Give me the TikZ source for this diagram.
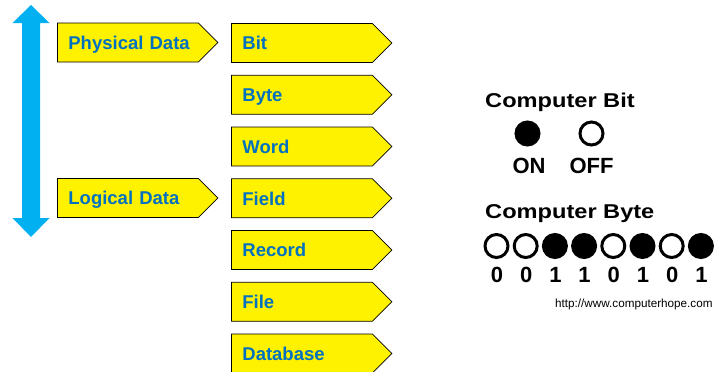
\documentclass[tikz,border=0pt]{standalone}
\usepackage{fontspec}
\setmainfont{Liberation Sans}
\usetikzlibrary{shapes.symbols}
\usetikzlibrary{positioning}
\definecolor{itemblue}{RGB}{0,112,192}
\definecolor{arrowblue}{RGB}{0,176,240}
\tikzset{x=1pt, y=-1pt,
datapart/.style={ % yellow pointed boxes
signal, signal to=east, signal pointer angle=90,
draw=black, fill=yellow, line width=0.8pt,
minimum height=39pt, inner xsep=0pt, inner ysep=0pt,
text width=141pt, text height=13.5pt, text depth=0pt,
align=left, anchor=west,
execute at begin node={\hspace*{11pt}},
font=\fontsize{18.5}{20}\selectfont\bfseries, text=itemblue},
cell0/.style={circle, draw=black, fill=white, line width=3pt,
minimum size=23pt, inner sep=0pt},
cell1/.style={cell0, fill=black},
heading/.style={anchor=base west, inner sep=0pt, xscale=1.18, transform shape,
font=\fontsize{20}{22}\selectfont\bfseries},
digit/.style={anchor=base, inner sep=0pt,
font=\fontsize{22}{24}\selectfont\bfseries}}

\begin{document}
\begin{tikzpicture}
\useasboundingbox (0,0) rectangle (720,372);
% up/down arrow
\fill[arrowblue] (31,5) -- (49.5,23) -- (40,23) -- (40,218) -- (49.5,218)
  -- (31,237) -- (12.5,218) -- (22,218) -- (22,23) -- (12.5,23) -- cycle;
\node[datapart] (physical) at (57,42.5) {Physical Data};
\node[datapart] (logical) at (57,198) {Logical Data};
\foreach \name/\txt [count=\i from 0] in
  {bit/Bit, byte/Byte, word/Word, field/Field, record/Record, file/File, database/Database}
  \node[datapart] (\name) at (231,{43+51.75*\i}) {\txt};

% bit
\node[heading] (bithead) at (485,107) {Computer Bit};
\node[cell1] (on) at (527.5,133.5) {};
\node[cell0] (off) at (591.5,133.5) {};
\node[digit] (ontxt) at (529,173) {ON};
\node[digit] (offtxt) at (591.5,173) {OFF};

% byte
\node[heading] (bytehead) at (485,218) {Computer Byte};
\foreach \b [count=\i from 0] in {0,0,1,1,0,1,0,1} {
  \node[cell\b] (c\i) at ({496.5+29.2*\i},246) {};
  \node[digit] (d\i) at ({497+29.2*\i},282) {\b};
}
\node[anchor=base west, inner sep=0pt, font=\fontsize{11.7}{13}\selectfont]
  (url) at (555,307.5) {http://www.computerhope.com};
\end{tikzpicture}
\end{document}
